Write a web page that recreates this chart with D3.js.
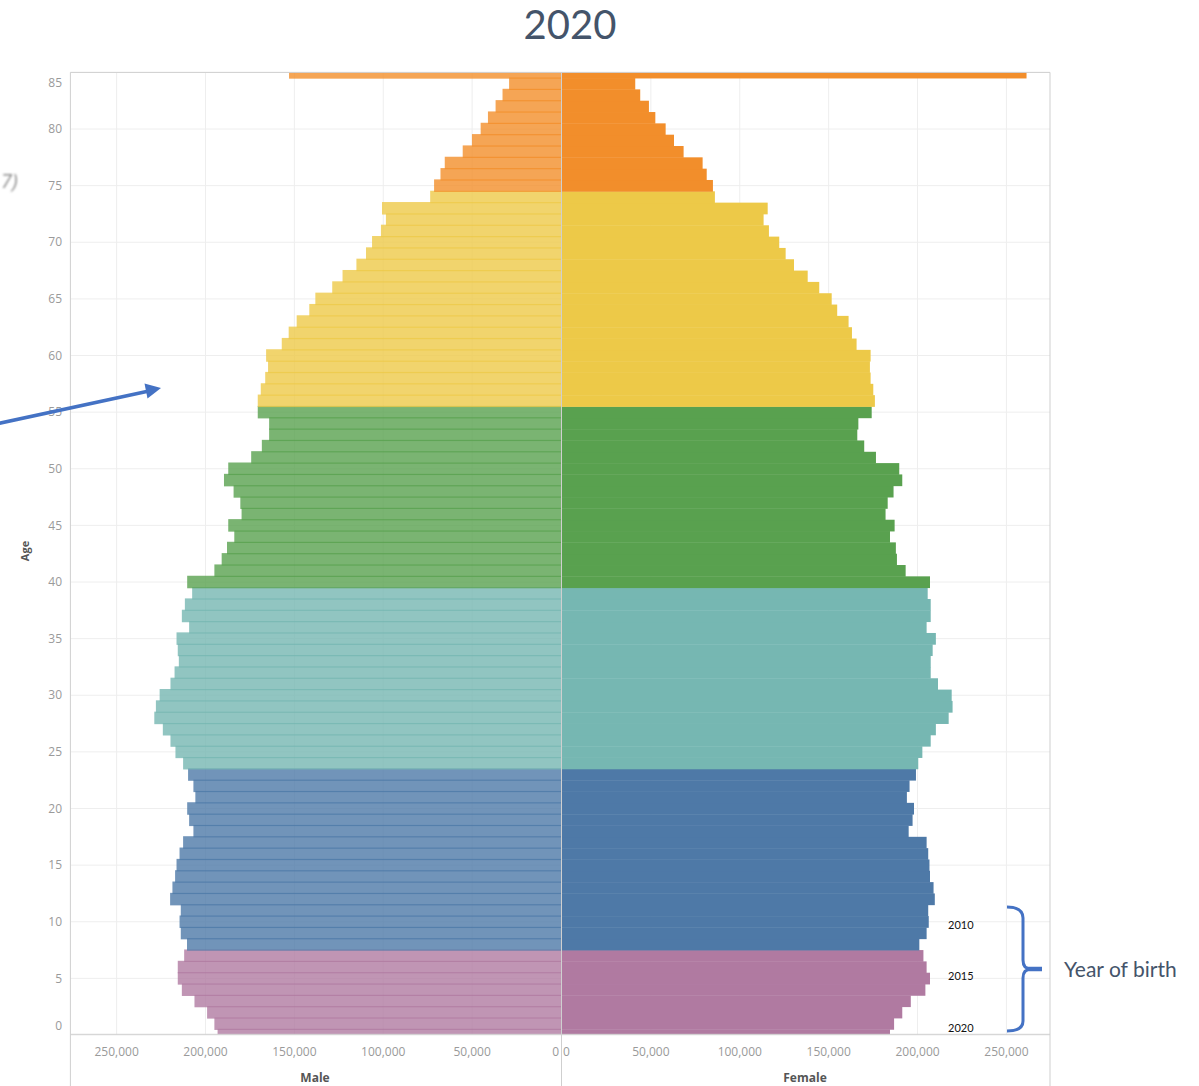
<!DOCTYPE html>
<html>
<head>
<meta charset="utf-8">
<script src="https://cdn.jsdelivr.net/npm/d3@7"></script>
<style>
  body { margin: 0; background: #fff; }
  text { font-family: "Open Sans", "Noto Sans", sans-serif; }
</style>
</head>
<body>
<script>

// ages 0 .. 85 (85 is the open 85+ group)
var ages = d3.range(0, 86);

var male = [
  193200, 195000, 199100, 206200, 213300, 215600, 215600, 212000, 210400, 213900,
  214600, 213900, 219900, 218600, 217100, 216300, 214600, 212600, 206800, 209200,
  210300, 205700, 206800, 209800, 212600, 216900, 219700, 224000, 228800, 227900,
  225800, 219700, 217400, 215000, 215600, 216300, 209200, 213300, 211600, 207500,
  210300, 195000, 190900, 187900, 183800, 187200, 179700, 180400, 184200, 189600,
  187200, 174300, 168300, 164200, 164200, 170600, 170600, 168900, 166400, 164800,
  165900, 157100, 153200, 148700, 141600, 138200, 128700, 122900, 115100, 109700,
  106300, 101300, 98500, 100700, 73600, 71400, 67800, 65400, 55300, 50100,
  45200, 41100, 36800, 32900, 29200, 153000
];

var female = [
  184500, 186800, 191400, 196200, 204400, 207000, 205100, 203300, 201000, 205100,
  206300, 206000, 209700, 209000, 207000, 206700, 206000, 205100, 195000, 197200,
  198000, 194000, 195500, 199100, 200400, 202700, 207400, 210300, 217500, 219700,
  219200, 211500, 207400, 207400, 208500, 210300, 205100, 207400, 207400, 205700,
  207000, 193300, 188400, 187800, 184500, 187100, 182000, 183200, 186500, 191400,
  189700, 176600, 170000, 166100, 166700, 174200, 176000, 175100, 173600, 173200,
  173600, 165700, 163100, 161200, 154800, 151700, 144700, 138200, 130500, 125800,
  122200, 116400, 113400, 115700, 86000, 84900, 81400, 79100, 68400, 63000,
  58300, 52500, 48900, 44000, 41200, 261300
];

// first age of each colour band
var bandStarts = [8, 24, 40, 56, 75];
var bandColors = ["#B07AA1", "#4E79A7", "#76B7B2", "#59A14F", "#EDC948", "#F28E2B"];

var xTicks = [0, 50000, 100000, 150000, 200000, 250000];
var yTicks = d3.range(0, 86, 5);

var birthAges = [10, 5, 0];
var birthYears = ["2010", "2015", "2020"];

var rows = ages.map(function(a, i) { return { age: a, male: male[i], female: female[i] }; });

var W = 1199, H = 1086;
var plotTop = 72.4, plotBottom = 1034.3;
var leftX = 70.4, midL = 561, midR = 562, rightX = 1050;

var svg = d3.select("body").append("svg")
  .attr("width", W)
  .attr("height", H);

var y = d3.scaleLinear().domain([0, 85]).range([1035, 72.4]);
var xM = d3.scaleLinear().domain([0, 276000]).range([midL, leftX]);
var xF = d3.scaleLinear().domain([0, 274500]).range([midR, rightX]);
var color = d3.scaleThreshold().domain(bandStarts).range(bandColors);
var step = Math.abs(y(0) - y(1));
var fmt = d3.format(",");

svg.append("clipPath").attr("id", "plot")
  .append("rect")
  .attr("x", leftX).attr("y", plotTop)
  .attr("width", rightX - leftX).attr("height", plotBottom - plotTop);

// gridlines
var grid = svg.append("g").attr("stroke", "#eeeeee").attr("stroke-width", 1);
grid.selectAll(".hg").data(yTicks).enter().append("line")
  .attr("x1", leftX).attr("x2", rightX)
  .attr("y1", function(d) { return y(d); })
  .attr("y2", function(d) { return y(d); });
grid.selectAll(".vm").data(xTicks.slice(1)).enter().append("line")
  .attr("x1", function(d) { return xM(d); })
  .attr("x2", function(d) { return xM(d); })
  .attr("y1", plotTop).attr("y2", plotBottom);
grid.selectAll(".vf").data(xTicks.slice(1)).enter().append("line")
  .attr("x1", function(d) { return xF(d); })
  .attr("x2", function(d) { return xF(d); })
  .attr("y1", plotTop).attr("y2", plotBottom);

var bars = svg.append("g").attr("clip-path", "url(#plot)");

// male side: translucent, overlapping a little so the seams show darker
bars.selectAll(".m").data(rows).enter().append("rect")
  .attr("x", function(d) { return xM(d.male); })
  .attr("y", function(d) { return y(d.age) - step / 2 - 0.6; })
  .attr("width", function(d) { return xM(0) - xM(d.male); })
  .attr("height", step + 1.2)
  .style("fill", function(d) { return color(d.age); })
  .style("fill-opacity", 0.8);

bars.selectAll(".f").data(rows).enter().append("rect")
  .attr("x", xF(0))
  .attr("y", function(d) { return y(d.age) - step / 2; })
  .attr("width", function(d) { return xF(d.female) - xF(0); })
  .attr("height", step + 0.4)
  .style("fill", function(d) { return color(d.age); });

// frame lines
var frame = svg.append("g").attr("stroke", "#cfcfcf").attr("stroke-width", 1).attr("fill", "none");
frame.append("line").attr("x1", leftX).attr("x2", rightX).attr("y1", plotTop).attr("y2", plotTop);
frame.append("line").attr("x1", leftX).attr("x2", rightX).attr("y1", plotBottom).attr("y2", plotBottom);
frame.append("line").attr("x1", leftX).attr("x2", leftX).attr("y1", plotTop).attr("y2", H);
frame.append("line").attr("x1", rightX).attr("x2", rightX).attr("y1", plotTop).attr("y2", H);
frame.append("line").attr("x1", midL + 0.5).attr("x2", midL + 0.5).attr("y1", plotTop).attr("y2", H);

// y tick labels (edge labels pulled inside like the original)
svg.selectAll(".yt").data(yTicks).enter().append("text")
  .attr("x", 62)
  .attr("y", function(d) { return Math.max(plotTop + 10, Math.min(plotBottom - 9, y(d))); })
  .attr("dy", "0.35em")
  .attr("text-anchor", "end")
  .style("font-size", "12px")
  .style("fill", "#9a9a9a")
  .text(function(d) { return d; });

svg.append("text")
  .attr("transform", "translate(29,551) rotate(-90)")
  .attr("text-anchor", "middle")
  .style("font-size", "11px")
  .style("font-weight", "bold")
  .style("fill", "#555")
  .text("Age");

// x tick labels
svg.selectAll(".xm").data(xTicks).enter().append("text")
  .attr("x", function(d) { return d === 0 ? midL - 2 : xM(d); })
  .attr("y", 1056)
  .attr("text-anchor", function(d) { return d === 0 ? "end" : "middle"; })
  .style("font-size", "12px")
  .style("fill", "#9a9a9a")
  .text(function(d) { return fmt(d); });

svg.selectAll(".xf").data(xTicks).enter().append("text")
  .attr("x", function(d) { return d === 0 ? midR + 1 : xF(d); })
  .attr("y", 1056)
  .attr("text-anchor", function(d) { return d === 0 ? "start" : "middle"; })
  .style("font-size", "12px")
  .style("fill", "#9a9a9a")
  .text(function(d) { return fmt(d); });

svg.append("text")
  .attr("x", 315).attr("y", 1082)
  .attr("text-anchor", "middle")
  .style("font-size", "12px").style("font-weight", "bold").style("fill", "#555")
  .text("Male");

svg.append("text")
  .attr("x", 805).attr("y", 1082)
  .attr("text-anchor", "middle")
  .style("font-size", "12px").style("font-weight", "bold").style("fill", "#555")
  .text("Female");

// title
svg.append("text")
  .attr("x", 570).attr("y", 39)
  .attr("text-anchor", "middle")
  .style("font-family", "Lato, 'Open Sans', sans-serif")
  .style("font-size", "40px")
  .style("fill", "#44546A")
  .text("2020");

// fragment on the left edge
svg.append("filter").attr("id", "soft")
  .append("feGaussianBlur").attr("stdDeviation", 0.9);
svg.append("text")
  .attr("x", 1).attr("y", 188)
  .attr("filter", "url(#soft)")
  .style("font-size", "20px")
  .style("font-style", "italic")
  .style("fill", "#8a8a8a")
  .text("7)");

// blue arrow
svg.append("line")
  .attr("x1", -4).attr("y1", 424)
  .attr("x2", 149).attr("y2", 391)
  .attr("stroke", "#4472C4").attr("stroke-width", 3.5);
svg.append("polygon")
  .attr("points", "161,388 147.5,398.5 144.5,383.5")
  .attr("fill", "#4472C4");

// year of birth annotation
svg.selectAll(".by").data(birthAges).enter().append("text")
  .attr("x", 948)
  .attr("y", function(d) { return Math.min(1028, y(d) + (d === 10 ? 3 : -2)); })
  .attr("dy", "0.35em")
  .style("font-family", "Lato, 'Open Sans', sans-serif")
  .style("font-size", "11px")
  .style("fill", "#111")
  .text(function(d, i) { return birthYears[i]; });

svg.append("path")
  .attr("d", "M1007,907 Q1023,907 1023,918 L1023,960 Q1023,969 1031,969 M1031,969 Q1023,969 1023,978 L1023,1021 Q1023,1031 1007,1031")
  .attr("fill", "none")
  .attr("stroke", "#4472C4")
  .attr("stroke-width", 3);
svg.append("line")
  .attr("x1", 1026).attr("x2", 1042)
  .attr("y1", 969).attr("y2", 969)
  .attr("stroke", "#4472C4").attr("stroke-width", 4.5);

svg.append("text")
  .attr("x", 1064).attr("y", 977)
  .style("font-family", "Lato, 'Open Sans', sans-serif")
  .style("font-size", "21px")
  .style("fill", "#44546A")
  .text("Year of birth");

</script>
</body>
</html>
